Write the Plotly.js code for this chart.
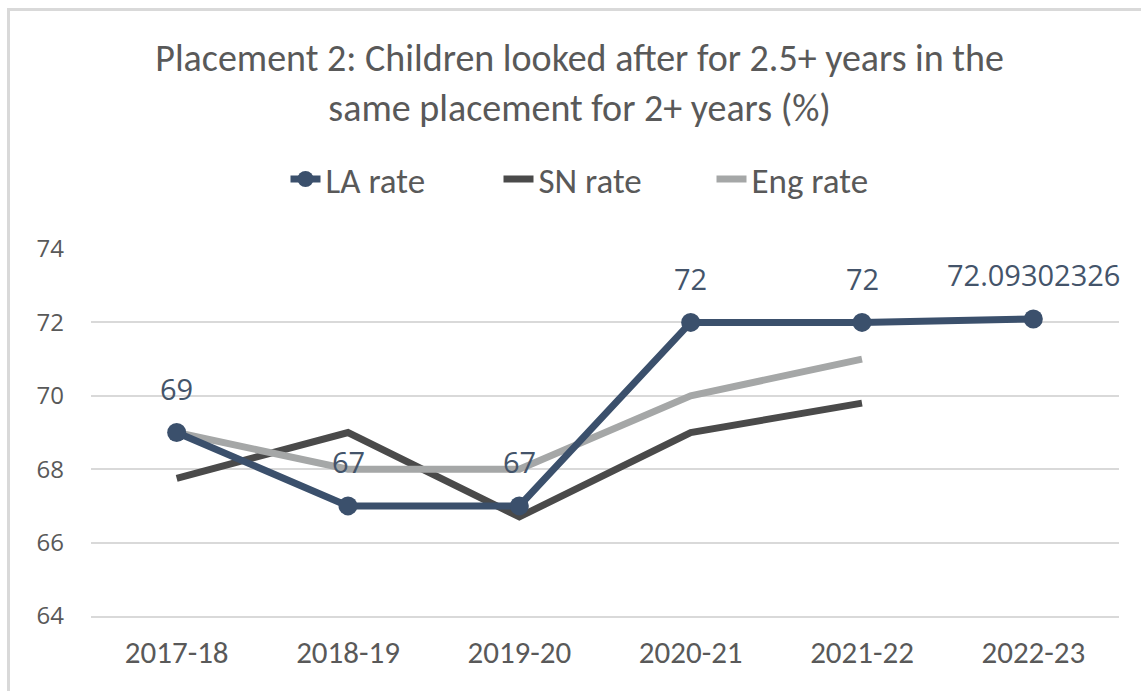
<!DOCTYPE html>
<html>
<head>
<meta charset="utf-8">
<script src="https://cdn.plot.ly/plotly-3.0.1.min.js"></script>
<style>
  body { margin: 0; background: #fff; }
  #chart { width: 1141px; height: 691px; }
  #frame { position: absolute; left: 7px; top: 8px; width: 1160px; height: 700px;
           border-left: 3px solid #d9d9d9; border-top: 3px solid #d9d9d9; pointer-events: none; }
</style>
</head>
<body>
<div id="chart"></div>
<div id="frame"></div>
<script>
// chart data
const years = ['2017-18', '2018-19', '2019-20', '2020-21', '2021-22', '2022-23'];
const laRate = [69, 67, 67, 72, 72, 72.09302326];
const snRate = [67.75, 69, 66.7, 69, 69.8, null];
const engRate = [69, 68, 68, 70, 71, null];
const yTicks = [64, 66, 68, 70, 72, 74];

const font = "Carlito, 'Liberation Sans Narrow', 'DejaVu Sans Condensed', sans-serif";
const labelFont = "'Open Sans', sans-serif";

const laTrace = {
    name: 'LA rate',
    x: years,
    y: laRate,
    type: 'scatter',
    mode: 'lines+markers',
    line: { color: '#3b506c', width: 7 },
    marker: { color: '#3b506c', size: 19 },
    legendrank: 1
};

const snTrace = {
    name: 'SN rate',
    x: years,
    y: snRate,
    type: 'scatter',
    mode: 'lines',
    line: { color: '#4a4a4a', width: 7 },
    legendrank: 2
};

const engTrace = {
    name: 'Eng rate',
    x: years,
    y: engRate,
    type: 'scatter',
    mode: 'lines',
    line: { color: '#a5a7a7', width: 7 },
    legendrank: 3
};

// data labels above the LA points
const labels = years.map((yr, i) => ({
    x: yr,
    y: laRate[i],
    text: String(laRate[i]),
    showarrow: false,
    yshift: 44,
    font: { family: labelFont, size: 29, color: '#44546a' }
}));

const layout = {
    width: 1141,
    height: 691,
    paper_bgcolor: '#ffffff',
    plot_bgcolor: '#ffffff',
    margin: { l: 91, r: 22, t: 249, b: 75 },
    title: {
        text: 'Placement 2: Children looked after for 2.5+ years in the<br>same placement for 2+ years (%)',
        font: { family: font, size: 38, color: '#595959' },
        x: 0.508,
        xanchor: 'center',
        y: 0.897,
        yanchor: 'middle'
    },
    showlegend: true,
    legend: {
        orientation: 'h',
        x: 0.5,
        xanchor: 'center',
        y: 1.19,
        yanchor: 'middle',
        font: { family: font, size: 35, color: '#595959' },
        entrywidth: 168,
        entrywidthmode: 'pixels'
    },
    annotations: labels,
    xaxis: {
        type: 'category',
        range: [-0.5, 5.5],
        showgrid: false,
        showline: true,
        linecolor: '#d9d9d9',
        linewidth: 2,
        ticks: '',
        ticklabelstandoff: 8,
        tickfont: { family: font, size: 31, color: '#595959' },
        fixedrange: true
    },
    yaxis: {
        range: [64, 74],
        tickvals: yTicks,
        ticktext: yTicks.map(String),
        showgrid: true,
        gridcolor: '#d9d9d9',
        gridwidth: 2,
        zeroline: false,
        showline: false,
        ticks: '',
        ticklabelstandoff: 26,
        tickfont: { family: labelFont, size: 24, color: '#595959' },
        fixedrange: true
    }
};

// SN and Eng first so LA sits on top
Plotly.newPlot('chart', [snTrace, engTrace, laTrace], layout, { displayModeBar: false, staticPlot: true });
</script>
</body>
</html>
